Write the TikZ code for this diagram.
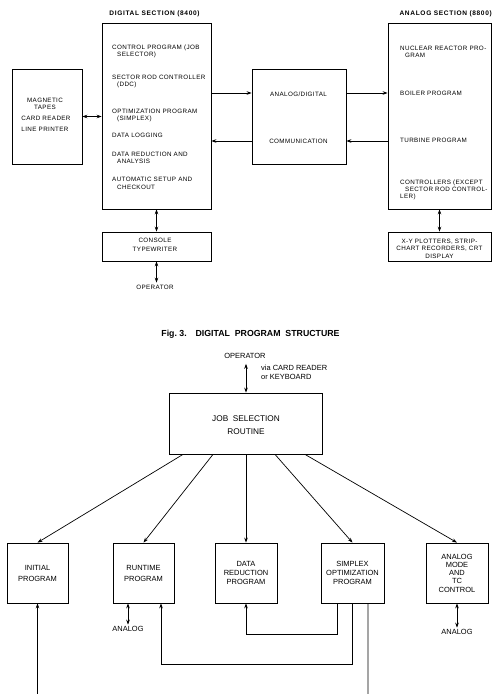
\documentclass[tikz,border=0pt]{standalone}
\usepackage{fontspec}
\setmainfont{Liberation Sans}
\newfontfamily\topf[LetterSpace=6]{Liberation Sans}
\newfontfamily\topbf[LetterSpace=10]{Liberation Sans Bold}
\newcommand\tf{\topf\fontsize{6.3}{7}\selectfont}
\newcommand\tfs[1]{\topf\fontsize{6.3}{#1}\selectfont}
\usetikzlibrary{arrows.meta,calc}
\begin{document}
\begin{tikzpicture}[x=1bp,y=-1bp,
  box/.style={draw, line width=0.8bp, inner sep=0pt},
  txt/.style={inner sep=0pt, font=\tf, align=left},
  ctxt/.style={inner sep=0pt, font=\tf, align=center},
  hdr/.style={inner sep=0pt, font=\topbf\fontsize{6.6}{7}\selectfont},
  btxt/.style={font=\fontsize{7.5}{9}\selectfont, align=center},
  arr/.style={-{Stealth[length=5bp,width=3.6bp]}, line width=0.7bp},
  dbl/.style={{Stealth[length=5bp,width=3.6bp]}-{Stealth[length=5bp,width=3.6bp]}, line width=0.7bp}]
\useasboundingbox (0,0) rectangle (492,694);
\fill[white] (0,0) rectangle (492,694);

% ---------- top diagram ----------
\node[hdr] (dhdr) at (154.5,14) {DIGITAL\ SECTION\ (8400)};
\node[hdr, anchor=east] (ahdr) at (492,14) {ANALOG\ SECTION\ (8800)};

\node[box, minimum width=70bp, minimum height=95bp] (tapes) at (47,116.5) {};
\node[ctxt, font=\tfs{7}] (mag) at (45,103.5) {MAGNETIC\\TAPES};
\node[ctxt] (card) at (46,118) {CARD READER};
\node[ctxt] (lp) at (45,129) {LINE PRINTER};

\node[box, minimum width=109bp, minimum height=186bp] (dig) at (156.5,116) {};
\node[txt, anchor=base west] (d1) at (112,56.5) {CONTROL PROGRAM (JOB\\\hspace*{5bp}SELECTOR)};
\node[txt, anchor=base west] (d2) at (112,86.5) {SECTOR ROD CONTROLLER\\\hspace*{5bp}(DDC)};
\node[txt, anchor=base west] (d3) at (112,120.5) {OPTIMIZATION PROGRAM\\\hspace*{5bp}(SIMPLEX)};
\node[txt, anchor=base west] (d4) at (112,137.5) {DATA LOGGING};
\node[txt, anchor=base west, font=\tfs{6.5}] (d5) at (112,163) {DATA REDUCTION AND\\\hspace*{5bp}ANALYSIS};
\node[txt, anchor=base west, font=\tfs{8}] (d6) at (112,189.5) {AUTOMATIC SETUP AND\\\hspace*{5bp}CHECKOUT};

\node[box, minimum width=94bp, minimum height=95bp] (ad) at (299,116.5) {};
\node[ctxt] (adt) at (298.5,94) {ANALOG/DIGITAL};
\node[ctxt] (comm) at (298.5,141) {COMMUNICATION};

\node[box, minimum width=103bp, minimum height=186bp] (an) at (439.5,116) {};
\node[txt, anchor=base west] (a1) at (400,57.3) {NUCLEAR REACTOR PRO-\\\hspace*{5bp}GRAM};
\node[txt, anchor=base west] (a2) at (400,95.3) {BOILER PROGRAM};
\node[txt, anchor=base west] (a3) at (400,142.3) {TURBINE PROGRAM};
\node[txt, anchor=base west] (a4) at (400,198.3) {CONTROLLERS (EXCEPT\\\hspace*{5bp}SECTOR ROD CONTROL-\\LER)};

\node[box, minimum width=109bp, minimum height=29bp] (con) at (156.5,246.5) {};
\node[ctxt, font=\tfs{9}] (cont) at (155,244.5) {CONSOLE\\TYPEWRITER};
\node[ctxt] (op1) at (155,287) {OPERATOR};

\node[box, minimum width=103bp, minimum height=29bp] (plot) at (439.5,246.5) {};
\node[ctxt, font=\tfs{7.5}] (plt) at (439.5,248.5) {X-Y PLOTTERS, STRIP-\\CHART RECORDERS, CRT\\DISPLAY};

\coordinate (r1) at (0,93);
\coordinate (r2) at (0,141);
\draw[dbl] (tapes.east) -- (tapes.east -| dig.west);
\draw[arr] (r1 -| dig.east) -- (r1 -| ad.west);
\draw[arr] (r2 -| ad.west) -- (r2 -| dig.east);
\draw[arr] (r1 -| ad.east) -- (r1 -| an.west);
\draw[arr] (r2 -| an.west) -- (r2 -| ad.east);
\draw[dbl] (dig.south) -- (con.north);
\draw[dbl, shorten >=2bp] (con.south) -- (op1.north -| con.south);
\draw[dbl] (an.south) -- (plot.north);

% ---------- caption ----------
\node[font=\bfseries\fontsize{8.8}{10}\selectfont, inner sep=0pt] (cap) at (250.5,334) {Fig.\ 3.\quad DIGITAL\ \ PROGRAM\ \ STRUCTURE};

% ---------- bottom diagram ----------
\node[btxt, inner sep=0pt] (op2) at (245,356) {OPERATOR};
\node[font=\fontsize{7.5}{9}\selectfont, align=left, inner sep=0pt, anchor=base west] (via) at (261,379.5) {via CARD READER\\or KEYBOARD};
\node[box, minimum width=153bp, minimum height=61bp] (job) at (246,423.5) {};
\node[font=\fontsize{8.3}{13}\selectfont, align=center, inner sep=0pt] (jobt) at (246,425) {JOB\ \ SELECTION\\ROUTINE};
\draw[dbl, shorten <=5bp] (op2.south -| job.north) -- (job.north);

\node[box, minimum width=61bp, minimum height=60bp, btxt, font=\fontsize{7.5}{11}\selectfont] (ini) at (37.5,573) {INITIAL\\PROGRAM};
\node[box, minimum width=61bp, minimum height=60bp, btxt, font=\fontsize{7.5}{11}\selectfont] (run) at (143.5,573) {RUNTIME\\PROGRAM};
\node[box, minimum width=62bp, minimum height=60bp, btxt] (dr) at (246,573) {DATA\\REDUCTION\\PROGRAM};
\node[box, minimum width=63bp, minimum height=60bp, btxt] (sim) at (352.5,573) {SIMPLEX\\OPTIMIZATION\\PROGRAM};
\node[box, minimum width=62bp, minimum height=60bp, btxt, font=\fontsize{7.5}{8.3}\selectfont] (am) at (457,573) {ANALOG\\MODE\\AND\\TC\\CONTROL};

\draw[arr] ($(job.south)+(-63,0)$) -- (ini.north);
\draw[arr] ($(job.south)+(-33,0)$) -- (run.north);
\draw[arr] (job.south) -- (dr.north);
\draw[arr] ($(job.south)+(29,0)$) -- (sim.north);
\draw[arr] ($(job.south)+(59,0)$) -- (am.north);

\node[btxt, inner sep=0pt] (ran) at (128,629) {ANALOG};
\node[btxt, inner sep=0pt] (aan) at (457,632) {ANALOG};
\draw[dbl, shorten >=1.5bp] ($(run.south)+(-15.5,0)$) -- (ran.north);
\draw[dbl, shorten >=1.5bp] (am.south) -- (aan.north);

\draw[arr] ($(sim.south)+(-15.5,0)$) -- ++(0,31) -| (dr.south);
\draw[arr] ($(sim.south)+(-0.5,0)$) -- ++(0,61) -| ($(run.south)+(17.5,0)$);
\coordinate (e1) at (368,694);
\coordinate (e2) at (37.5,694);
\draw[line width=0.7bp] ($(sim.south)+(15.5,0)$) -- (e1);
\draw[arr] (e2) -- (ini.south);
\end{tikzpicture}
\end{document}
